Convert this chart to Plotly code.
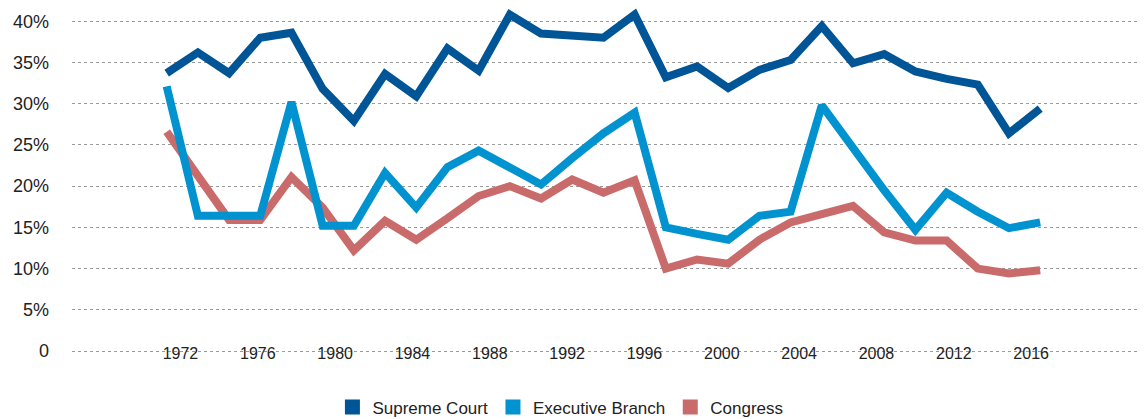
import plotly.graph_objects as go

# ---- data ----
survey_years = ["1973", "1974", "1975", "1976", "1977", "1978", "1980", "1982", "1983",
                "1984", "1986", "1987", "1988", "1989", "1990", "1991", "1993", "1994",
                "1996", "1998", "2000", "2002", "2004", "2006", "2008", "2010", "2012",
                "2014", "2016"]

supreme_court = [33.7, 36.2, 33.7, 38.0, 38.6, 31.8, 27.9, 33.6, 30.9, 36.7, 34.0, 40.8,
                 38.5, 38.3, 38.0, 40.8, 33.2, 34.5, 31.9, 34.1, 35.3, 39.4, 34.9, 36.0,
                 33.9, 33.0, 32.3, 26.4, 29.4]

executive_branch = [32.1, 16.4, 16.4, 16.4, 30.2, 15.2, 15.2, 21.6, 17.4, 22.3, 24.3, 22.3,
                    20.2, 23.4, 26.4, 28.9, 15.0, 14.2, 13.5, 16.4, 16.9, 29.8, 24.6, 19.5,
                    14.7, 19.2, 16.9, 14.9, 15.6]

congress = [26.6, 21.1, 15.9, 15.9, 21.1, 17.4, 12.2, 15.8, 13.5, 16.1, 18.8, 20.0, 18.5,
            20.8, 19.2, 20.7, 10.0, 11.1, 10.6, 13.5, 15.6, 16.6, 17.6, 14.4, 13.4, 13.4,
            10.0, 9.4, 9.8]

year_ticks = [1972, 1976, 1980, 1984, 1988, 1992, 1996, 2000, 2004, 2008, 2012, 2016]
pct_ticks = [0, 5, 10, 15, 20, 25, 30, 35, 40]
pct_labels = ["0", "5%", "10%", "15%", "20%", "25%", "30%", "35%", "40%"]

series_names = ["Supreme Court", "Executive Branch", "Congress"]
series_colors = ["#005596", "#0093d0", "#c96b6b"]
series_values = [supreme_court, executive_branch, congress]

FONT = "Liberation Sans, Arial, sans-serif"

fig = go.Figure()

# lines (congress below, supreme court on top)
for name, vals, color in reversed(list(zip(series_names, series_values, series_colors))):
    fig.add_trace(go.Scatter(
        x=survey_years, y=vals, mode="lines", name=name,
        line=dict(color=color, width=8),
        showlegend=False, hoverinfo="skip", xaxis="x", yaxis="y",
    ))

# legend entries with square swatches
for name, color in zip(series_names, series_colors):
    fig.add_trace(go.Scatter(
        x=[None], y=[None], mode="markers", name=name,
        marker=dict(symbol="square", size=15, color=color),
        xaxis="x2", yaxis="y", hoverinfo="skip",
    ))

# invisible carrier for the year axis labels
fig.add_trace(go.Scatter(
    x=year_ticks, y=[0] * len(year_ticks), mode="markers",
    marker=dict(opacity=0), showlegend=False, hoverinfo="skip",
    xaxis="x2", yaxis="y",
))

fig.update_layout(
    width=1139, height=411,
    margin=dict(l=64, r=2, t=0, b=63, autoexpand=False),
    paper_bgcolor="white", plot_bgcolor="white",
    font=dict(family=FONT, color="#222222"),
    xaxis=dict(
        type="category", range=[-3.035, 31.36],
        showgrid=False, showticklabels=False, zeroline=False, showline=False,
        ticks="", fixedrange=True, automargin=False,
    ),
    xaxis2=dict(
        overlaying="x", anchor="free", position=0.040, side="bottom",
        range=[1966.39, 2021.89], tickvals=year_ticks,
        ticktext=[str(y) for y in year_ticks],
        showgrid=False, zeroline=False, showline=False, ticks="",
        automargin=False,
        tickfont=dict(size=16, color="#222222", family=FONT),
    ),
    yaxis=dict(
        range=[-0.6, 41.6], tickvals=pct_ticks, ticktext=pct_labels,
        showgrid=True, gridcolor="#9a9a9a", gridwidth=1, griddash="dot",
        zeroline=False, showline=False, ticks="",
        ticklabelstandoff=22, automargin=False,
        tickfont=dict(size=18, color="#222222", family=FONT),
    ),
    legend=dict(
        orientation="h", xref="container", yref="container",
        x=0.485, xanchor="center", y=0.028, yanchor="middle",
        font=dict(size=17, color="#222222", family=FONT),
        itemclick=False, itemdoubleclick=False,
        tracegroupgap=0, itemwidth=30,
    ),
)

fig.write_html("out.html")
